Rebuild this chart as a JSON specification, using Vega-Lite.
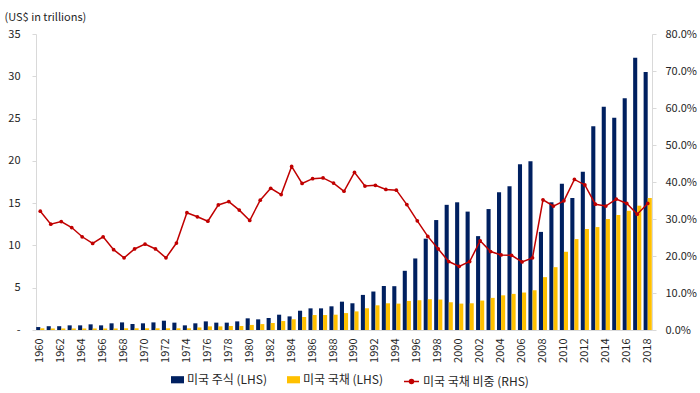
{
  "$schema": "https://vega.github.io/schema/vega-lite/v6.json",
  "width": 616,
  "height": 296,
  "autosize": {"type": "none"},
  "padding": {"left": 36, "top": 34, "right": 48, "bottom": 63},
  "config": {
    "font": "Noto Sans CJK KR",
    "view": {"stroke": null},
    "axis": {"labelFontSize": 11, "labelColor": "#262626", "grid": false, "domainColor": "#d9d9d9", "tickColor": "#d9d9d9", "labelFont": "Noto Sans CJK KR"},
    "legend": {"labelFontSize": 12, "labelColor": "#262626", "labelFont": "Noto Sans CJK KR", "padding": 0, "offset": 0, "labelOffset": 3, "titlePadding": 0}
  },
  "datasets": {
    "bars": [
      {"year": 1960, "series": "미국 주식 (LHS)", "value": 0.35},
      {"year": 1961, "series": "미국 주식 (LHS)", "value": 0.45},
      {"year": 1962, "series": "미국 주식 (LHS)", "value": 0.45},
      {"year": 1963, "series": "미국 주식 (LHS)", "value": 0.55},
      {"year": 1964, "series": "미국 주식 (LHS)", "value": 0.55},
      {"year": 1965, "series": "미국 주식 (LHS)", "value": 0.67},
      {"year": 1966, "series": "미국 주식 (LHS)", "value": 0.55},
      {"year": 1967, "series": "미국 주식 (LHS)", "value": 0.79},
      {"year": 1968, "series": "미국 주식 (LHS)", "value": 0.9},
      {"year": 1969, "series": "미국 주식 (LHS)", "value": 0.71},
      {"year": 1970, "series": "미국 주식 (LHS)", "value": 0.79},
      {"year": 1971, "series": "미국 주식 (LHS)", "value": 0.9},
      {"year": 1972, "series": "미국 주식 (LHS)", "value": 1.1},
      {"year": 1973, "series": "미국 주식 (LHS)", "value": 0.87},
      {"year": 1974, "series": "미국 주식 (LHS)", "value": 0.55},
      {"year": 1975, "series": "미국 주식 (LHS)", "value": 0.79},
      {"year": 1976, "series": "미국 주식 (LHS)", "value": 1.02},
      {"year": 1977, "series": "미국 주식 (LHS)", "value": 0.87},
      {"year": 1978, "series": "미국 주식 (LHS)", "value": 0.87},
      {"year": 1979, "series": "미국 주식 (LHS)", "value": 1.02},
      {"year": 1980, "series": "미국 주식 (LHS)", "value": 1.38},
      {"year": 1981, "series": "미국 주식 (LHS)", "value": 1.26},
      {"year": 1982, "series": "미국 주식 (LHS)", "value": 1.42},
      {"year": 1983, "series": "미국 주식 (LHS)", "value": 1.81},
      {"year": 1984, "series": "미국 주식 (LHS)", "value": 1.61},
      {"year": 1985, "series": "미국 주식 (LHS)", "value": 2.28},
      {"year": 1986, "series": "미국 주식 (LHS)", "value": 2.56},
      {"year": 1987, "series": "미국 주식 (LHS)", "value": 2.56},
      {"year": 1988, "series": "미국 주식 (LHS)", "value": 2.8},
      {"year": 1989, "series": "미국 주식 (LHS)", "value": 3.35},
      {"year": 1990, "series": "미국 주식 (LHS)", "value": 3.16},
      {"year": 1991, "series": "미국 주식 (LHS)", "value": 4.15},
      {"year": 1992, "series": "미국 주식 (LHS)", "value": 4.55},
      {"year": 1993, "series": "미국 주식 (LHS)", "value": 5.2},
      {"year": 1994, "series": "미국 주식 (LHS)", "value": 5.18},
      {"year": 1995, "series": "미국 주식 (LHS)", "value": 7.0},
      {"year": 1996, "series": "미국 주식 (LHS)", "value": 8.46},
      {"year": 1997, "series": "미국 주식 (LHS)", "value": 10.8},
      {"year": 1998, "series": "미국 주식 (LHS)", "value": 13.0},
      {"year": 1999, "series": "미국 주식 (LHS)", "value": 14.8},
      {"year": 2000, "series": "미국 주식 (LHS)", "value": 15.1},
      {"year": 2001, "series": "미국 주식 (LHS)", "value": 14.0},
      {"year": 2002, "series": "미국 주식 (LHS)", "value": 11.1},
      {"year": 2003, "series": "미국 주식 (LHS)", "value": 14.3},
      {"year": 2004, "series": "미국 주식 (LHS)", "value": 16.3},
      {"year": 2005, "series": "미국 주식 (LHS)", "value": 17.0},
      {"year": 2006, "series": "미국 주식 (LHS)", "value": 19.6},
      {"year": 2007, "series": "미국 주식 (LHS)", "value": 19.95},
      {"year": 2008, "series": "미국 주식 (LHS)", "value": 11.6},
      {"year": 2009, "series": "미국 주식 (LHS)", "value": 15.1},
      {"year": 2010, "series": "미국 주식 (LHS)", "value": 17.3},
      {"year": 2011, "series": "미국 주식 (LHS)", "value": 15.6},
      {"year": 2012, "series": "미국 주식 (LHS)", "value": 18.7},
      {"year": 2013, "series": "미국 주식 (LHS)", "value": 24.1},
      {"year": 2014, "series": "미국 주식 (LHS)", "value": 26.4},
      {"year": 2015, "series": "미국 주식 (LHS)", "value": 25.1},
      {"year": 2016, "series": "미국 주식 (LHS)", "value": 27.4},
      {"year": 2017, "series": "미국 주식 (LHS)", "value": 32.2},
      {"year": 2018, "series": "미국 주식 (LHS)", "value": 30.5},
      {"year": 1960, "series": "미국 국채 (LHS)", "value": 0.2},
      {"year": 1961, "series": "미국 국채 (LHS)", "value": 0.18},
      {"year": 1962, "series": "미국 국채 (LHS)", "value": 0.18},
      {"year": 1963, "series": "미국 국채 (LHS)", "value": 0.18},
      {"year": 1964, "series": "미국 국채 (LHS)", "value": 0.18},
      {"year": 1965, "series": "미국 국채 (LHS)", "value": 0.18},
      {"year": 1966, "series": "미국 국채 (LHS)", "value": 0.18},
      {"year": 1967, "series": "미국 국채 (LHS)", "value": 0.18},
      {"year": 1968, "series": "미국 국채 (LHS)", "value": 0.2},
      {"year": 1969, "series": "미국 국채 (LHS)", "value": 0.2},
      {"year": 1970, "series": "미국 국채 (LHS)", "value": 0.2},
      {"year": 1971, "series": "미국 국채 (LHS)", "value": 0.2},
      {"year": 1972, "series": "미국 국채 (LHS)", "value": 0.2},
      {"year": 1973, "series": "미국 국채 (LHS)", "value": 0.2},
      {"year": 1974, "series": "미국 국채 (LHS)", "value": 0.2},
      {"year": 1975, "series": "미국 국채 (LHS)", "value": 0.3},
      {"year": 1976, "series": "미국 국채 (LHS)", "value": 0.43},
      {"year": 1977, "series": "미국 국채 (LHS)", "value": 0.43},
      {"year": 1978, "series": "미국 국채 (LHS)", "value": 0.47},
      {"year": 1979, "series": "미국 국채 (LHS)", "value": 0.47},
      {"year": 1980, "series": "미국 국채 (LHS)", "value": 0.6},
      {"year": 1981, "series": "미국 국채 (LHS)", "value": 0.7},
      {"year": 1982, "series": "미국 국채 (LHS)", "value": 0.83},
      {"year": 1983, "series": "미국 국채 (LHS)", "value": 1.06},
      {"year": 1984, "series": "미국 국채 (LHS)", "value": 1.26},
      {"year": 1985, "series": "미국 국채 (LHS)", "value": 1.54},
      {"year": 1986, "series": "미국 국채 (LHS)", "value": 1.77},
      {"year": 1987, "series": "미국 국채 (LHS)", "value": 1.77},
      {"year": 1988, "series": "미국 국채 (LHS)", "value": 1.81},
      {"year": 1989, "series": "미국 국채 (LHS)", "value": 2.0},
      {"year": 1990, "series": "미국 국채 (LHS)", "value": 2.2},
      {"year": 1991, "series": "미국 국채 (LHS)", "value": 2.57},
      {"year": 1992, "series": "미국 국채 (LHS)", "value": 2.92},
      {"year": 1993, "series": "미국 국채 (LHS)", "value": 3.16},
      {"year": 1994, "series": "미국 국채 (LHS)", "value": 3.12},
      {"year": 1995, "series": "미국 국채 (LHS)", "value": 3.44},
      {"year": 1996, "series": "미국 국채 (LHS)", "value": 3.52},
      {"year": 1997, "series": "미국 국채 (LHS)", "value": 3.64},
      {"year": 1998, "series": "미국 국채 (LHS)", "value": 3.6},
      {"year": 1999, "series": "미국 국채 (LHS)", "value": 3.28},
      {"year": 2000, "series": "미국 국채 (LHS)", "value": 3.12},
      {"year": 2001, "series": "미국 국채 (LHS)", "value": 3.16},
      {"year": 2002, "series": "미국 국채 (LHS)", "value": 3.48},
      {"year": 2003, "series": "미국 국채 (LHS)", "value": 3.8},
      {"year": 2004, "series": "미국 국채 (LHS)", "value": 4.1},
      {"year": 2005, "series": "미국 국채 (LHS)", "value": 4.27},
      {"year": 2006, "series": "미국 국채 (LHS)", "value": 4.43},
      {"year": 2007, "series": "미국 국채 (LHS)", "value": 4.7},
      {"year": 2008, "series": "미국 국채 (LHS)", "value": 6.25},
      {"year": 2009, "series": "미국 국채 (LHS)", "value": 7.43},
      {"year": 2010, "series": "미국 국채 (LHS)", "value": 9.25},
      {"year": 2011, "series": "미국 국채 (LHS)", "value": 10.75},
      {"year": 2012, "series": "미국 국채 (LHS)", "value": 11.94},
      {"year": 2013, "series": "미국 국채 (LHS)", "value": 12.17},
      {"year": 2014, "series": "미국 국채 (LHS)", "value": 13.12},
      {"year": 2015, "series": "미국 국채 (LHS)", "value": 13.6},
      {"year": 2016, "series": "미국 국채 (LHS)", "value": 14.1},
      {"year": 2017, "series": "미국 국채 (LHS)", "value": 14.7},
      {"year": 2018, "series": "미국 국채 (LHS)", "value": 15.6}
    ],
    "share": [
      {"year": 1960, "share": 0.321}, {"year": 1961, "share": 0.286}, {"year": 1962, "share": 0.293},
      {"year": 1963, "share": 0.277}, {"year": 1964, "share": 0.252}, {"year": 1965, "share": 0.234},
      {"year": 1966, "share": 0.252}, {"year": 1967, "share": 0.217}, {"year": 1968, "share": 0.195},
      {"year": 1969, "share": 0.219}, {"year": 1970, "share": 0.232}, {"year": 1971, "share": 0.219},
      {"year": 1972, "share": 0.195}, {"year": 1973, "share": 0.235}, {"year": 1974, "share": 0.317},
      {"year": 1975, "share": 0.306}, {"year": 1976, "share": 0.294}, {"year": 1977, "share": 0.338},
      {"year": 1978, "share": 0.347}, {"year": 1979, "share": 0.324}, {"year": 1980, "share": 0.296},
      {"year": 1981, "share": 0.351}, {"year": 1982, "share": 0.383}, {"year": 1983, "share": 0.366},
      {"year": 1984, "share": 0.442}, {"year": 1985, "share": 0.396}, {"year": 1986, "share": 0.409},
      {"year": 1987, "share": 0.411}, {"year": 1988, "share": 0.397}, {"year": 1989, "share": 0.375},
      {"year": 1990, "share": 0.426}, {"year": 1991, "share": 0.389}, {"year": 1992, "share": 0.391},
      {"year": 1993, "share": 0.38}, {"year": 1994, "share": 0.378}, {"year": 1995, "share": 0.339},
      {"year": 1996, "share": 0.295}, {"year": 1997, "share": 0.253}, {"year": 1998, "share": 0.219},
      {"year": 1999, "share": 0.185}, {"year": 2000, "share": 0.172}, {"year": 2001, "share": 0.185},
      {"year": 2002, "share": 0.241}, {"year": 2003, "share": 0.212}, {"year": 2004, "share": 0.203},
      {"year": 2005, "share": 0.202}, {"year": 2006, "share": 0.184}, {"year": 2007, "share": 0.195},
      {"year": 2008, "share": 0.352}, {"year": 2009, "share": 0.335}, {"year": 2010, "share": 0.349},
      {"year": 2011, "share": 0.407}, {"year": 2012, "share": 0.392}, {"year": 2013, "share": 0.34},
      {"year": 2014, "share": 0.335}, {"year": 2015, "share": 0.354}, {"year": 2016, "share": 0.342},
      {"year": 2017, "share": 0.313}, {"year": 2018, "share": 0.342}
    ]
  },
  "layer": [
    {
      "data": {"name": "bars"},
      "mark": {"type": "bar"},
      "encoding": {
        "x": {
          "field": "year", "type": "ordinal",
          "scale": {"paddingInner": 0.22, "paddingOuter": 0.02},
          "axis": {"title": null, "ticks": false, "labelAngle": 270, "labelPadding": 8, "labelOverlap": false,
                   "labelExpr": "datum.value % 2 == 0 ? datum.label : ''", "domainColor": "#d9d9d9"}
        },
        "xOffset": {"field": "series", "type": "nominal", "scale": {"domain": ["미국 주식 (LHS)", "미국 국채 (LHS)"]}},
        "y": {
          "field": "value", "type": "quantitative",
          "scale": {"domain": [0, 35], "nice": false},
          "axis": {"orient": "left", "values": [0, 5, 10, 15, 20, 25, 30, 35], "tickSize": 4, "labelPadding": 12,
                   "labelExpr": "datum.value == 0 ? '-' : datum.label",
                   "title": "(US$ in trillions)", "titleAngle": 0, "titleAlign": "left", "titleBaseline": "middle",
                   "titleX": -32, "titleY": -17, "titleFontWeight": "normal", "titleFontSize": 11, "titleColor": "#262626"}
        },
        "color": {
          "field": "series", "type": "nominal",
          "scale": {"domain": ["미국 주식 (LHS)", "미국 국채 (LHS)"], "range": ["#002060", "#FFC000"]},
          "legend": {"title": null, "orient": "none", "legendX": 135, "legendY": 339, "direction": "horizontal", "columns": 2,
                     "columnPadding": 19, "symbolType": "M-1,-0.55H1V0.55H-1Z", "symbolSize": 169, "symbolStrokeWidth": 0}
        }
      }
    },
    {
      "data": {"name": "share"},
      "encoding": {
        "x": {"field": "year", "type": "ordinal"},
        "y": {
          "field": "share", "type": "quantitative",
          "scale": {"domain": [0, 0.8], "nice": false},
          "axis": {"orient": "right", "format": ".1%", "values": [0, 0.1, 0.2, 0.3, 0.4, 0.5, 0.6, 0.7, 0.8], "tickSize": 4, "labelPadding": 9, "title": null}
        }
      },
      "layer": [
        {
          "mark": {"type": "line", "strokeWidth": 1.5},
          "encoding": {
            "stroke": {
              "datum": "미국 국채 비중 (RHS)",
              "scale": {"range": ["#C00000"]},
              "legend": {"title": null, "orient": "none", "legendX": 367, "legendY": 339,
                         "symbolType": "M-1,0H1M-0.27,0A0.27,0.27 0 1,0 0.27,0A0.27,0.27 0 1,0 -0.27,0",
                         "symbolSize": 225, "symbolStrokeWidth": 1.5, "symbolFillColor": "#C00000",
                         "encode": {"symbols": {"update": {"fill": {"value": "#C00000"}}}}}
            }
          }
        },
        {
          "mark": {"type": "point", "filled": true, "size": 14, "color": "#C00000", "opacity": 1}
        }
      ]
    }
  ],
  "resolve": {"scale": {"y": "independent"}}
}
